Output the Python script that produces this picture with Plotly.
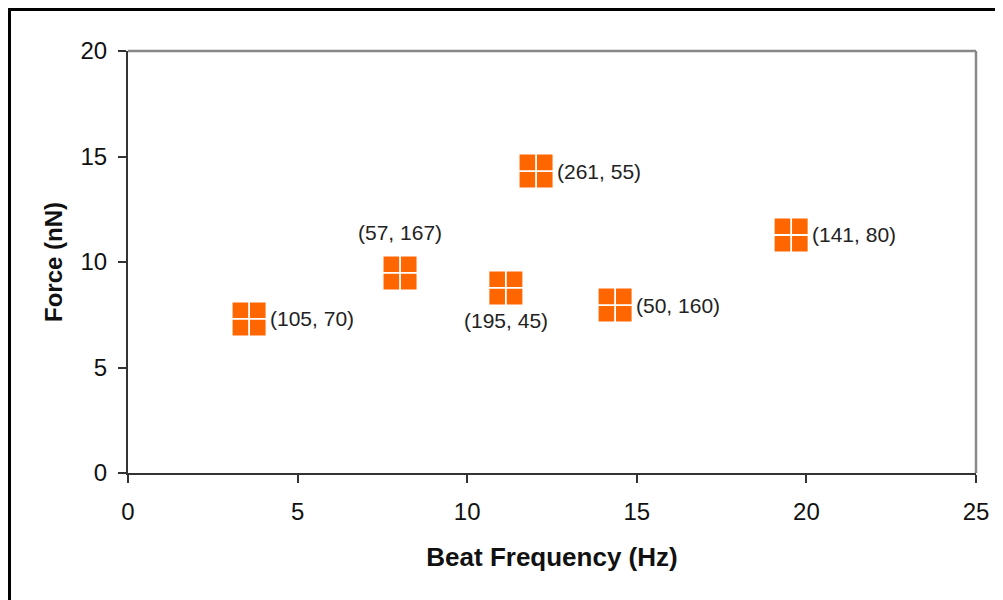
import plotly.graph_objects as go

beat_freq = [3.57, 8.02, 11.14, 12.03, 14.36, 19.55]
force = [7.30, 9.48, 8.77, 14.31, 7.96, 11.28]
labels = ["(105, 70)", "(57, 167)", "(195, 45)", "(261, 55)", "(50, 160)", "(141, 80)"]
label_pos = ["middle right", "top center", "bottom center", "middle right", "middle right", "middle right"]

x_ticks = [0, 5, 10, 15, 20, 25]
y_ticks = [0, 5, 10, 15, 20]

# page body adds an 8px offset
OFF = 8
W, H = 1003 - OFF, 600 - OFF
L, R, T, B = 128 - OFF, 27, 51 - OFF, 127
pw, ph = W - L - R, H - T - B

fig = go.Figure()
fig.add_trace(go.Scatter(
    x=beat_freq, y=force, mode="markers",
    marker=dict(symbol="square", size=33, color="#FF6600", line=dict(width=0)),
    showlegend=False, hoverinfo="skip"))
fig.add_trace(go.Scatter(
    x=beat_freq, y=force, mode="markers",
    marker=dict(symbol="cross-thin", size=27, color="white", line=dict(width=1.8, color="white")),
    showlegend=False, hoverinfo="skip"))

FAM = "Liberation Sans, Arial"
font_lab = dict(family=FAM, size=21, color="#222222")
for x, y, t, p in zip(beat_freq, force, labels, label_pos):
    if p == "middle right":
        fig.add_annotation(x=x, y=y, text=t, showarrow=False, xanchor="left", yanchor="middle",
                           xshift=19, font=font_lab)
    elif p == "top center":
        fig.add_annotation(x=x, y=y, text=t, showarrow=False, xanchor="center", yanchor="bottom",
                           yshift=27, font=font_lab)
    else:
        fig.add_annotation(x=x, y=y, text=t, showarrow=False, xanchor="center", yanchor="top",
                           yshift=-19, font=font_lab)

tick_font = dict(family=FAM, size=24, color="#111111")
fig.update_xaxes(range=[0, 25], tickvals=x_ticks, ticks="outside", ticklen=8, tickwidth=1.5,
                 tickcolor="#333333", showline=True, linecolor="#333333", linewidth=2,
                 showgrid=False, zeroline=False, tickfont=tick_font, ticklabelstandoff=8,
                 title=dict(text="<b>Beat Frequency (Hz)</b>", standoff=24,
                            font=dict(family=FAM, size=26, color="#111111")))
fig.update_yaxes(range=[0, 20], tickvals=y_ticks, ticks="outside", ticklen=8, tickwidth=1.5,
                 tickcolor="#333333", showline=True, linecolor="#333333", linewidth=2,
                 showgrid=False, zeroline=False, tickfont=tick_font, ticklabelstandoff=6,
                 title=dict(text="<b>Force (nN)</b>", standoff=11,
                            font=dict(family=FAM, size=24, color="#111111")))

# gray top/right plot border
fig.add_shape(type="line", xref="paper", yref="paper", x0=0, x1=1, y0=1, y1=1,
              line=dict(color="#888888", width=2.5))
fig.add_shape(type="line", xref="paper", yref="paper", x0=1, x1=1, y0=0, y1=1,
              line=dict(color="#888888", width=2.5))
# outer black frame
fig.add_shape(type="rect", xref="paper", yref="paper",
              x0=(1.5 - L) / pw, x1=(W + 20 - L) / pw,
              y0=(H - B - (H + 20)) / ph, y1=(H - B - 1.5) / ph,
              line=dict(color="black", width=3), layer="below")

fig.update_layout(width=W, height=H, margin=dict(l=L, r=R, t=T, b=B),
                  paper_bgcolor="white", plot_bgcolor="white")
fig.write_html("out.html")
